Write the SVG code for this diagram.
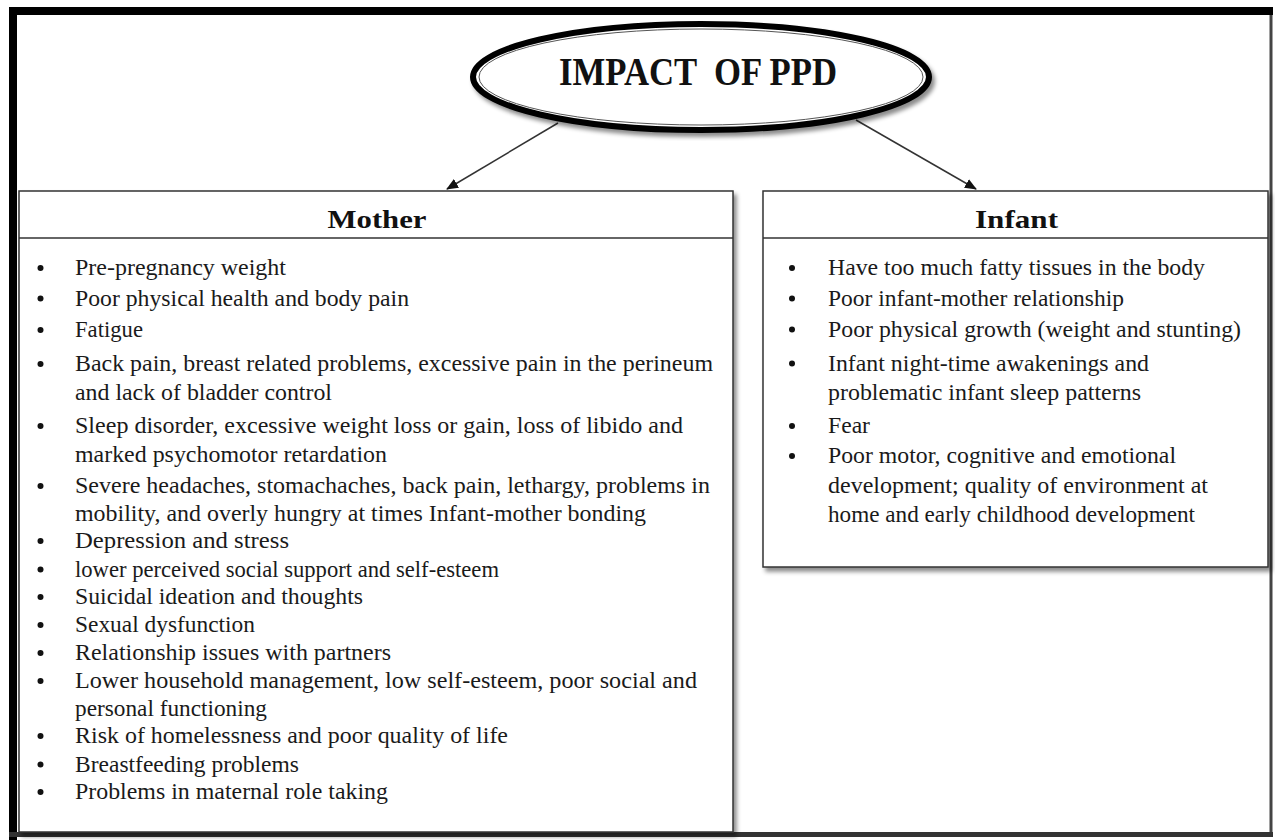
<svg xmlns="http://www.w3.org/2000/svg" width="1275" height="840" viewBox="0 0 1275 840">
<defs>
<style>
.t{font-family:"Liberation Serif","Times New Roman",serif;font-size:23px;fill:#1a1a1a}
.h{font-family:"Liberation Serif","Times New Roman",serif;font-size:26px;font-weight:bold;fill:#111;text-anchor:middle}
.box{fill:#fff;stroke:#333;stroke-width:1.5}
.b{fill:#111}
.conn{stroke:#333;stroke-width:1.5;fill:none}
</style>
<filter id="sh" x="-5%" y="-5%" width="112%" height="115%">
<feDropShadow dx="3" dy="4" stdDeviation="2" flood-color="#000" flood-opacity="0.45"/>
</filter>
<marker id="ar" markerWidth="12" markerHeight="12" refX="11" refY="6" orient="auto" markerUnits="userSpaceOnUse">
<path d="M0,1 L12,6 L0,11 z" fill="#111"/>
</marker>
</defs>
<rect width="1275" height="840" fill="#fff"/>
<g id="frame">
<rect x="13" y="11" width="1258" height="824" fill="none" stroke="#444" stroke-width="3"/>
<rect x="9" y="7" width="8" height="833" fill="#000"/>
<rect x="9" y="7" width="1264" height="8" fill="#000"/>
<rect x="9" y="832" width="1264" height="5" fill="#333"/>
</g>
<g id="connectors">
<line class="conn" x1="558" y1="123" x2="447" y2="189" marker-end="url(#ar)"/>
<line class="conn" x1="856" y1="120" x2="976" y2="189" marker-end="url(#ar)"/>
</g>
<g id="title">
<ellipse cx="701" cy="77" rx="228" ry="53" fill="#fff" stroke="#000" stroke-width="6" filter="url(#sh)"/>
<ellipse cx="701" cy="77" rx="222" ry="48" fill="none" stroke="#555" stroke-width="1"/>
<text x="698" y="85" xml:space="preserve" font-family="Liberation Serif,'Times New Roman',serif" font-size="40" font-weight="bold" fill="#111" text-anchor="middle" textLength="278" lengthAdjust="spacingAndGlyphs">IMPACT  OF PPD</text>
</g>
<g id="mother">
<rect class="box" x="19" y="191" width="714" height="641" filter="url(#sh)"/>
<line x1="19" y1="238" x2="733" y2="238" stroke="#333" stroke-width="1.5"/>
<text class="h" x="377" y="228" textLength="99" lengthAdjust="spacingAndGlyphs">Mother</text>
<g class="b">
<circle cx="40.5" cy="268" r="3"/><circle cx="40.5" cy="298.5" r="3"/><circle cx="40.5" cy="330" r="3"/><circle cx="40.5" cy="364" r="3"/><circle cx="40.5" cy="426" r="3"/><circle cx="40.5" cy="486" r="3"/><circle cx="40.5" cy="541" r="3"/><circle cx="40.5" cy="569.5" r="3"/><circle cx="40.5" cy="597" r="3"/><circle cx="40.5" cy="625" r="3"/><circle cx="40.5" cy="653" r="3"/><circle cx="40.5" cy="681" r="3"/><circle cx="40.5" cy="736" r="3"/><circle cx="40.5" cy="764.5" r="3"/><circle cx="40.5" cy="792" r="3"/>
</g>
<text class="t" x="75" y="275" textLength="211" lengthAdjust="spacingAndGlyphs">Pre-pregnancy weight</text>
<text class="t" x="75" y="305.5" textLength="334" lengthAdjust="spacingAndGlyphs">Poor physical health and body pain</text>
<text class="t" x="75" y="337" textLength="68" lengthAdjust="spacingAndGlyphs">Fatigue</text>
<text class="t" x="75" y="371" textLength="638" lengthAdjust="spacingAndGlyphs">Back pain, breast related problems, excessive pain in the perineum</text>
<text class="t" x="75" y="400" textLength="257" lengthAdjust="spacingAndGlyphs">and lack of bladder control</text>
<text class="t" x="75" y="433" textLength="608" lengthAdjust="spacingAndGlyphs">Sleep disorder, excessive weight loss or gain, loss of libido and</text>
<text class="t" x="75" y="461.5" textLength="312" lengthAdjust="spacingAndGlyphs">marked psychomotor retardation</text>
<text class="t" x="75" y="493" textLength="635" lengthAdjust="spacingAndGlyphs">Severe headaches, stomachaches, back pain, lethargy, problems in</text>
<text class="t" x="75" y="520.5" textLength="571" lengthAdjust="spacingAndGlyphs">mobility, and overly hungry at times Infant-mother bonding</text>
<text class="t" x="75" y="548" textLength="214" lengthAdjust="spacingAndGlyphs">Depression and stress</text>
<text class="t" x="75" y="576.5" textLength="424" lengthAdjust="spacingAndGlyphs">lower perceived social support and self-esteem</text>
<text class="t" x="75" y="604" textLength="288" lengthAdjust="spacingAndGlyphs">Suicidal ideation and thoughts</text>
<text class="t" x="75" y="632" textLength="180" lengthAdjust="spacingAndGlyphs">Sexual dysfunction</text>
<text class="t" x="75" y="660" textLength="316" lengthAdjust="spacingAndGlyphs">Relationship issues with partners</text>
<text class="t" x="75" y="688" textLength="622" lengthAdjust="spacingAndGlyphs">Lower household management, low self-esteem, poor social and</text>
<text class="t" x="75" y="715.5" textLength="192" lengthAdjust="spacingAndGlyphs">personal functioning</text>
<text class="t" x="75" y="743" textLength="433" lengthAdjust="spacingAndGlyphs">Risk of homelessness and poor quality of life</text>
<text class="t" x="75" y="771.5" textLength="224" lengthAdjust="spacingAndGlyphs">Breastfeeding problems</text>
<text class="t" x="75" y="799" textLength="313" lengthAdjust="spacingAndGlyphs">Problems in maternal role taking</text>
</g>
<g id="infant">
<rect class="box" x="763" y="191" width="505" height="376" filter="url(#sh)"/>
<line x1="763" y1="238" x2="1268" y2="238" stroke="#333" stroke-width="1.5"/>
<text class="h" x="1016.5" y="228" textLength="83" lengthAdjust="spacingAndGlyphs">Infant</text>
<g class="b">
<circle cx="792" cy="268" r="3"/><circle cx="792" cy="298.5" r="3"/><circle cx="792" cy="329.5" r="3"/><circle cx="792" cy="363.5" r="3"/><circle cx="792" cy="426" r="3"/><circle cx="792" cy="456" r="3"/>
</g>
<text class="t" x="828" y="275" textLength="377" lengthAdjust="spacingAndGlyphs">Have too much fatty tissues in the body</text>
<text class="t" x="828" y="305.5" textLength="296" lengthAdjust="spacingAndGlyphs">Poor infant-mother relationship</text>
<text class="t" x="828" y="336.5" textLength="413" lengthAdjust="spacingAndGlyphs">Poor physical growth (weight and stunting)</text>
<text class="t" x="828" y="370.5" textLength="321" lengthAdjust="spacingAndGlyphs">Infant night-time awakenings and</text>
<text class="t" x="828" y="400" textLength="313" lengthAdjust="spacingAndGlyphs">problematic infant sleep patterns</text>
<text class="t" x="828" y="433" textLength="42" lengthAdjust="spacingAndGlyphs">Fear</text>
<text class="t" x="828" y="463" textLength="348" lengthAdjust="spacingAndGlyphs">Poor motor, cognitive and emotional</text>
<text class="t" x="828" y="493" textLength="380" lengthAdjust="spacingAndGlyphs">development; quality of environment at</text>
<text class="t" x="828" y="521.5" textLength="367" lengthAdjust="spacingAndGlyphs">home and early childhood development</text>
</g>
</svg>
